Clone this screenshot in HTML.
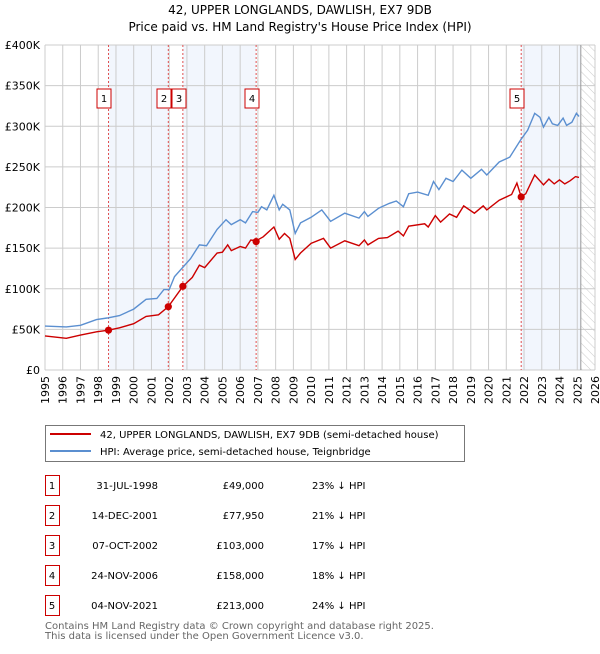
<!DOCTYPE html>
<html><head><meta charset="utf-8"><style>
body{margin:0;background:#fff;width:600px;height:650px;overflow:hidden;font-family:"DejaVu Sans","Liberation Sans",sans-serif;}
svg text{font-family:"DejaVu Sans","Liberation Sans",sans-serif;}
</style></head><body>
<svg id="c" width="600" height="650" viewBox="0 0 600 650">
<text x="300" y="14" text-anchor="middle" font-size="12" fill="#000">42, UPPER LONGLANDS, DAWLISH, EX7 9DB</text>
<text x="300" y="31" text-anchor="middle" font-size="12" fill="#000">Price paid vs. HM Land Registry's House Price Index (HPI)</text>
<defs><pattern id="hatch" width="6" height="6" patternUnits="userSpaceOnUse" patternTransform="rotate(-45)"><line x1="0" y1="0" x2="0" y2="6" stroke="#ccc" stroke-width="1"/></pattern></defs>
<g id="plot"></g>
<g>
<rect x="45.5" y="425.5" width="419" height="36" fill="#fff" stroke="#777"/>
<line x1="50" y1="434" x2="91" y2="434" stroke="#cc0000" stroke-width="2"/>
<text x="100" y="438" font-size="10">42, UPPER LONGLANDS, DAWLISH, EX7 9DB (semi-detached house)</text>
<line x1="50" y1="451" x2="91" y2="451" stroke="#5b8fd0" stroke-width="2"/>
<text x="100" y="455" font-size="10">HPI: Average price, semi-detached house, Teignbridge</text>
</g>
<g id="table" font-size="10"></g>
<text x="45" y="629" font-size="10" fill="#666">Contains HM Land Registry data © Crown copyright and database right 2025.</text>
<text x="45" y="639" font-size="10" fill="#666">This data is licensed under the Open Government Licence v3.0.</text>
</svg>
<script>
const hpiYears=[1995,1996.2,1997,1997.9,1998.5,1999.2,2000,2000.7,2001.3,2001.7,2002,2002.3,2003.2,2003.7,2004.1,2004.7,2005.2,2005.5,2006,2006.3,2006.7,2007,2007.2,2007.5,2007.9,2008.2,2008.4,2008.8,2009.1,2009.4,2010,2010.6,2011.1,2011.9,2012.7,2013,2013.2,2013.8,2014.4,2014.8,2015.2,2015.5,2016,2016.6,2016.9,2017.2,2017.6,2018,2018.5,2019,2019.6,2019.9,2020.6,2021.2,2021.8,2022.2,2022.6,2022.9,2023.1,2023.4,2023.6,2023.9,2024.2,2024.4,2024.7,2024.95,2025.1];
const hpiValues=[54,53,55,62,64,67,75,87,88,99,99,115,137,154,153,173,185,179,185,181,195,194,201,197,215,197,204,197,168,181,188,197,183,193,187,195,189,199,205,208,201,217,219,215,232,222,236,232,246,236,247,240,256,262,283,295,316,311,299,311,303,301,310,301,305,316,312];
const ppYears=[1995,1996.2,1997,1997.9,1998.58,1999.2,2000,2000.7,2001.4,2001.95,2002.77,2003.3,2003.7,2004,2004.7,2005,2005.3,2005.5,2006,2006.3,2006.6,2006.9,2007.3,2007.9,2008.2,2008.5,2008.8,2009.1,2009.4,2010,2010.7,2011.1,2011.9,2012.7,2013,2013.2,2013.8,2014.3,2014.9,2015.2,2015.5,2016.4,2016.6,2017,2017.3,2017.8,2018.2,2018.6,2019.2,2019.7,2019.9,2020.6,2021.3,2021.6,2021.84,2022.1,2022.6,2023.1,2023.4,2023.7,2024,2024.3,2024.6,2024.9,2025.1];
const ppValues=[42,39,43,47,49,52,57,66,68,78,103,114,129,126,144,145,154,147,152,150,160,159,164,176,161,168,162,136,144,156,162,150,159,153,160,154,162,163,171,165,177,180,176,190,182,192,188,202,193,202,197,209,216,230,213,217,240,228,235,229,234,229,233,238,237];
const saleYears=[1998.58,2001.95,2002.77,2006.9,2021.84];
const saleValues=[49,77.95,103,158,213];
const saleLabels=["1","2","3","4","5"];
const saleDates=["31-JUL-1998","14-DEC-2001","07-OCT-2002","24-NOV-2006","04-NOV-2021"];
const salePrices=["£49,000","£77,950","£103,000","£158,000","£213,000"];
const saleDiffs=["23% ↓ HPI","21% ↓ HPI","17% ↓ HPI","18% ↓ HPI","24% ↓ HPI"];
const yTicks=[0,50,100,150,200,250,300,350,400];
const yTickLabels=["£0","£50K","£100K","£150K","£200K","£250K","£300K","£350K","£400K"];
const xTicks=[1995,1996,1997,1998,1999,2000,2001,2002,2003,2004,2005,2006,2007,2008,2009,2010,2011,2012,2013,2014,2015,2016,2017,2018,2019,2020,2021,2022,2023,2024,2025,2026];

const NS="http://www.w3.org/2000/svg";
const L=45,R=595,T=45,B=370;
const xs=y=>L+(y-1995)/(2026-1995)*(R-L);
const ys=v=>B-v/400*(B-T);
const plot=document.getElementById('plot');
function mk(tag,attrs,parent){const e=document.createElementNS(NS,tag);for(const k in attrs)e.setAttribute(k,attrs[k]);(parent||plot).appendChild(e);return e;}

const bandPairs=[[0,1],[2,3]];
bandPairs.forEach(p=>{const r=mk('rect',{x:xs(saleYears[p[0]]),y:T,width:xs(saleYears[p[1]])-xs(saleYears[p[0]]),height:B-T,fill:'#f2f6fd'});

});
const lastBand=mk('rect',{x:xs(saleYears[4]),y:T,width:xs(2025.2)-xs(saleYears[4]),height:B-T,fill:'#f2f6fd'});


const hatch=mk('rect',{x:xs(2025.2),y:T,width:R-xs(2025.2),height:B-T,fill:'url(#hatch)'});



xTicks.forEach(t=>{const g=mk('line',{x1:xs(t),x2:xs(t),y1:T,y2:B,stroke:'#ccc','stroke-width':1});


const tx=mk('text',{x:0,y:0,'font-size':11,'text-anchor':'end',transform:`translate(${xs(t)+4},376) rotate(-90)`});
tx.textContent=t;

});
yTicks.forEach((t,i)=>{const g=mk('line',{x1:L,x2:R,y1:ys(t),y2:ys(t),stroke:'#ccc','stroke-width':1});


const tx=mk('text',{x:40,y:ys(t)+4,'font-size':11,'text-anchor':'end'});
tx.textContent=yTickLabels[i];

});
const sep=mk('line',{x1:xs(2025.2),x2:xs(2025.2),y1:T,y2:B,stroke:'#999','stroke-width':1});



saleYears.forEach(y=>{const l=mk('line',{x1:xs(y),x2:xs(y),y1:T,y2:B,stroke:'#e05050','stroke-width':1,'stroke-dasharray':'2,2'});

});

function path(xa,va,color,name){const d=xa.map((x,i)=>(i?'L':'M')+xs(x).toFixed(1)+','+ys(va[i]).toFixed(1)).join('');
const p=mk('path',{d:d,fill:'none',stroke:color,'stroke-width':1.4});

}
path(hpiYears,hpiValues,'#5b8fd0','hpi-line');
path(ppYears,ppValues,'#cc0000','property-price-line');

saleYears.forEach((y,i)=>{const c=mk('circle',{cx:xs(y),cy:ys(saleValues[i]),r:3.6,fill:'#cc0000'});


const bx=[104,164,179,252,517][i];
const r=mk('rect',{x:bx-7,y:89,width:14,height:19,fill:'#fff',stroke:'#cc0000'});


const t=mk('text',{x:bx,y:102,'font-size':10,'text-anchor':'middle'});
t.textContent=saleLabels[i];

});

const tb=document.getElementById('table');
saleLabels.forEach((s,i)=>{const y=475+i*30;
const r=mk('rect',{x:45.5,y:y+0.5,width:14,height:20,fill:'#fff',stroke:'#cc0000'},tb);


const cells=[[s,52,'middle'],[saleDates[i],158,'end'],[salePrices[i],264,'end'],[saleDiffs[i],312,'start']];
const names=['table-row-number','table-row-date','table-row-price','table-row-hpi-diff'];
cells.forEach((c,j)=>{const t=mk('text',{x:c[1],y:y+14,'text-anchor':c[2],'font-size':10},tb);
t.textContent=c[0];

});});
</script>
</body></html>
